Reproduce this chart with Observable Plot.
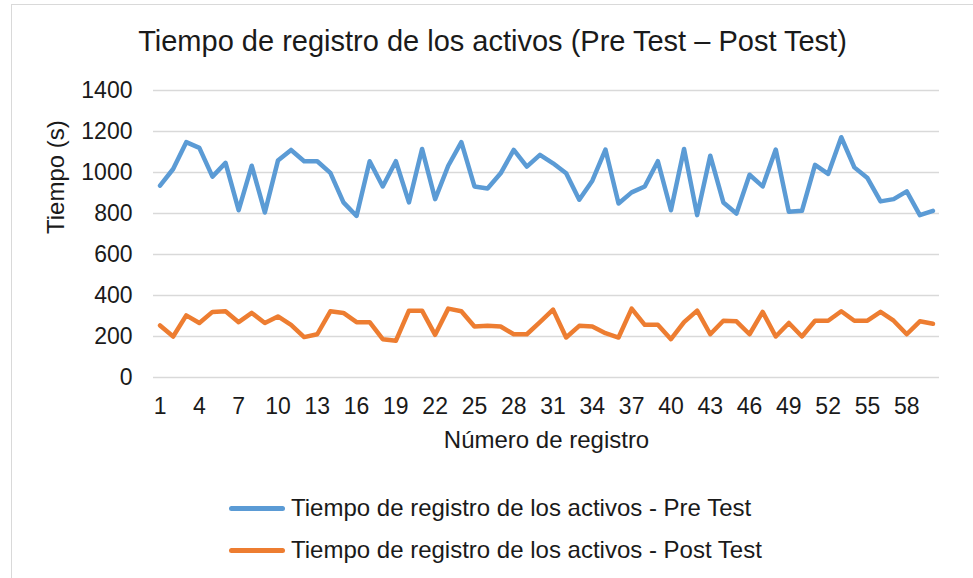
<!DOCTYPE html>
<html>
<head>
<meta charset="utf-8">
<script src="https://cdn.jsdelivr.net/npm/d3@7"></script>
<script src="https://cdn.jsdelivr.net/npm/@observablehq/plot@0.6"></script>
<style>
  html, body { margin: 0; padding: 0; background: #fff; overflow: hidden; }
  body { width: 973px; height: 578px; position: relative; font-family: "Liberation Sans", Arial, sans-serif; color: #1a1a1a; }
  #frame { position: absolute; left: 11px; top: 4px; width: 1000px; height: 620px; border: 1px solid #d9d9d9; box-sizing: border-box; }
  #title { position: absolute; left: 0; width: 985px; top: 27px; text-align: center; font-size: 29px; line-height: 1; white-space: nowrap; }
  #chart { position: absolute; left: 0; top: 60px; }
  .sw { position: absolute; left: 229px; width: 56px; height: 5px; border-radius: 2.5px; }
  .lt { position: absolute; left: 291px; font-size: 24px; line-height: 1; white-space: nowrap; }
</style>
</head>
<body>
<div id="frame"></div>
<div id="title"></div>
<div id="chart"></div>
<div id="legend"></div>
<script>
const titleText = "Tiempo de registro de los activos (Pre Test – Post Test)";
const yLabel = "Tiempo (s)";
const xLabel = "Número de registro";
const seriesNames = ["Tiempo de registro de los activos - Pre Test", "Tiempo de registro de los activos - Post Test"];
const seriesColors = ["#5B9BD5", "#ED7D31"];

const registro = d3.range(1, 61);
const preTest = [936, 1017, 1148, 1120, 980, 1047, 816, 1033, 805, 1058,
                 1110, 1055, 1055, 998, 854, 788, 1055, 932, 1055, 854,
                 1115, 870, 1033, 1148, 932, 922, 996, 1110, 1029, 1086,
                 1045, 996, 867, 960, 1112, 849, 903, 932, 1055, 816,
                 1115, 792, 1082, 854, 800, 989, 932, 1112, 808, 813,
                 1037, 993, 1172, 1025, 973, 859, 870, 908, 792, 813];
const postTest = [254, 200, 303, 266, 320, 323, 270, 315, 266, 298,
                  257, 197, 211, 323, 315, 270, 270, 187, 179, 326,
                  326, 208, 336, 323, 249, 252, 249, 211, 211, 270,
                  331, 195, 252, 249, 216, 195, 336, 257, 257, 187,
                  270, 326, 211, 277, 274, 211, 320, 200, 266, 200,
                  277, 277, 323, 277, 277, 320, 277, 211, 274, 262];
const yTicks = [0, 200, 400, 600, 800, 1000, 1200, 1400];
const xTicks = d3.range(1, 59, 3);

document.getElementById("title").textContent = titleText;

const rows = [];
registro.forEach((r, i) => {
  rows.push({registro: r, valor: preTest[i], serie: seriesNames[0]});
});
registro.forEach((r, i) => {
  rows.push({registro: r, valor: postTest[i], serie: seriesNames[1]});
});

const chart = Plot.plot({
  width: 973,
  height: 400,
  marginLeft: 153,
  marginRight: 34,
  marginTop: 30,
  marginBottom: 83,
  style: {fontFamily: "'Liberation Sans', Arial, sans-serif", fontSize: "23px", color: "#1a1a1a", background: "transparent", overflow: "visible"},
  x: {type: "linear", domain: [0.5, 60.5]},
  y: {domain: [0, 1400]},
  color: {domain: seriesNames, range: seriesColors},
  marks: [
    Plot.gridY(yTicks, {stroke: "#d9d9d9", strokeOpacity: 1, strokeWidth: 1.3}),
    Plot.axisY(yTicks, {tickSize: 0, tickPadding: 21, label: null, fontSize: 23, tickFormat: d => String(d)}),
    Plot.axisX(xTicks, {tickSize: 0, tickPadding: 20, label: null, fontSize: 23, tickFormat: d => String(d)}),
    Plot.line(rows, {x: "registro", y: "valor", z: "serie", stroke: "serie", strokeWidth: 4.5, strokeLinejoin: "round", strokeLinecap: "round"}),
    Plot.text([yLabel], {frameAnchor: "left", dx: -97, rotate: -90, fontSize: 24, fill: "#1a1a1a"}),
    Plot.text([xLabel], {frameAnchor: "bottom", dy: 70, fontSize: 24, fill: "#1a1a1a"})
  ]
});
document.getElementById("chart").appendChild(chart);

const legend = document.getElementById("legend");
const legendY = [508, 550];
seriesNames.forEach((name, i) => {
  const sw = document.createElement("div");
  sw.className = "sw";
  sw.style.top = (legendY[i] - 2.5) + "px";
  sw.style.background = seriesColors[i];
  legend.appendChild(sw);
  const t = document.createElement("div");
  t.className = "lt";
  t.style.top = (legendY[i] - 12) + "px";
  t.textContent = name;
  legend.appendChild(t);
});
</script>
</body>
</html>
